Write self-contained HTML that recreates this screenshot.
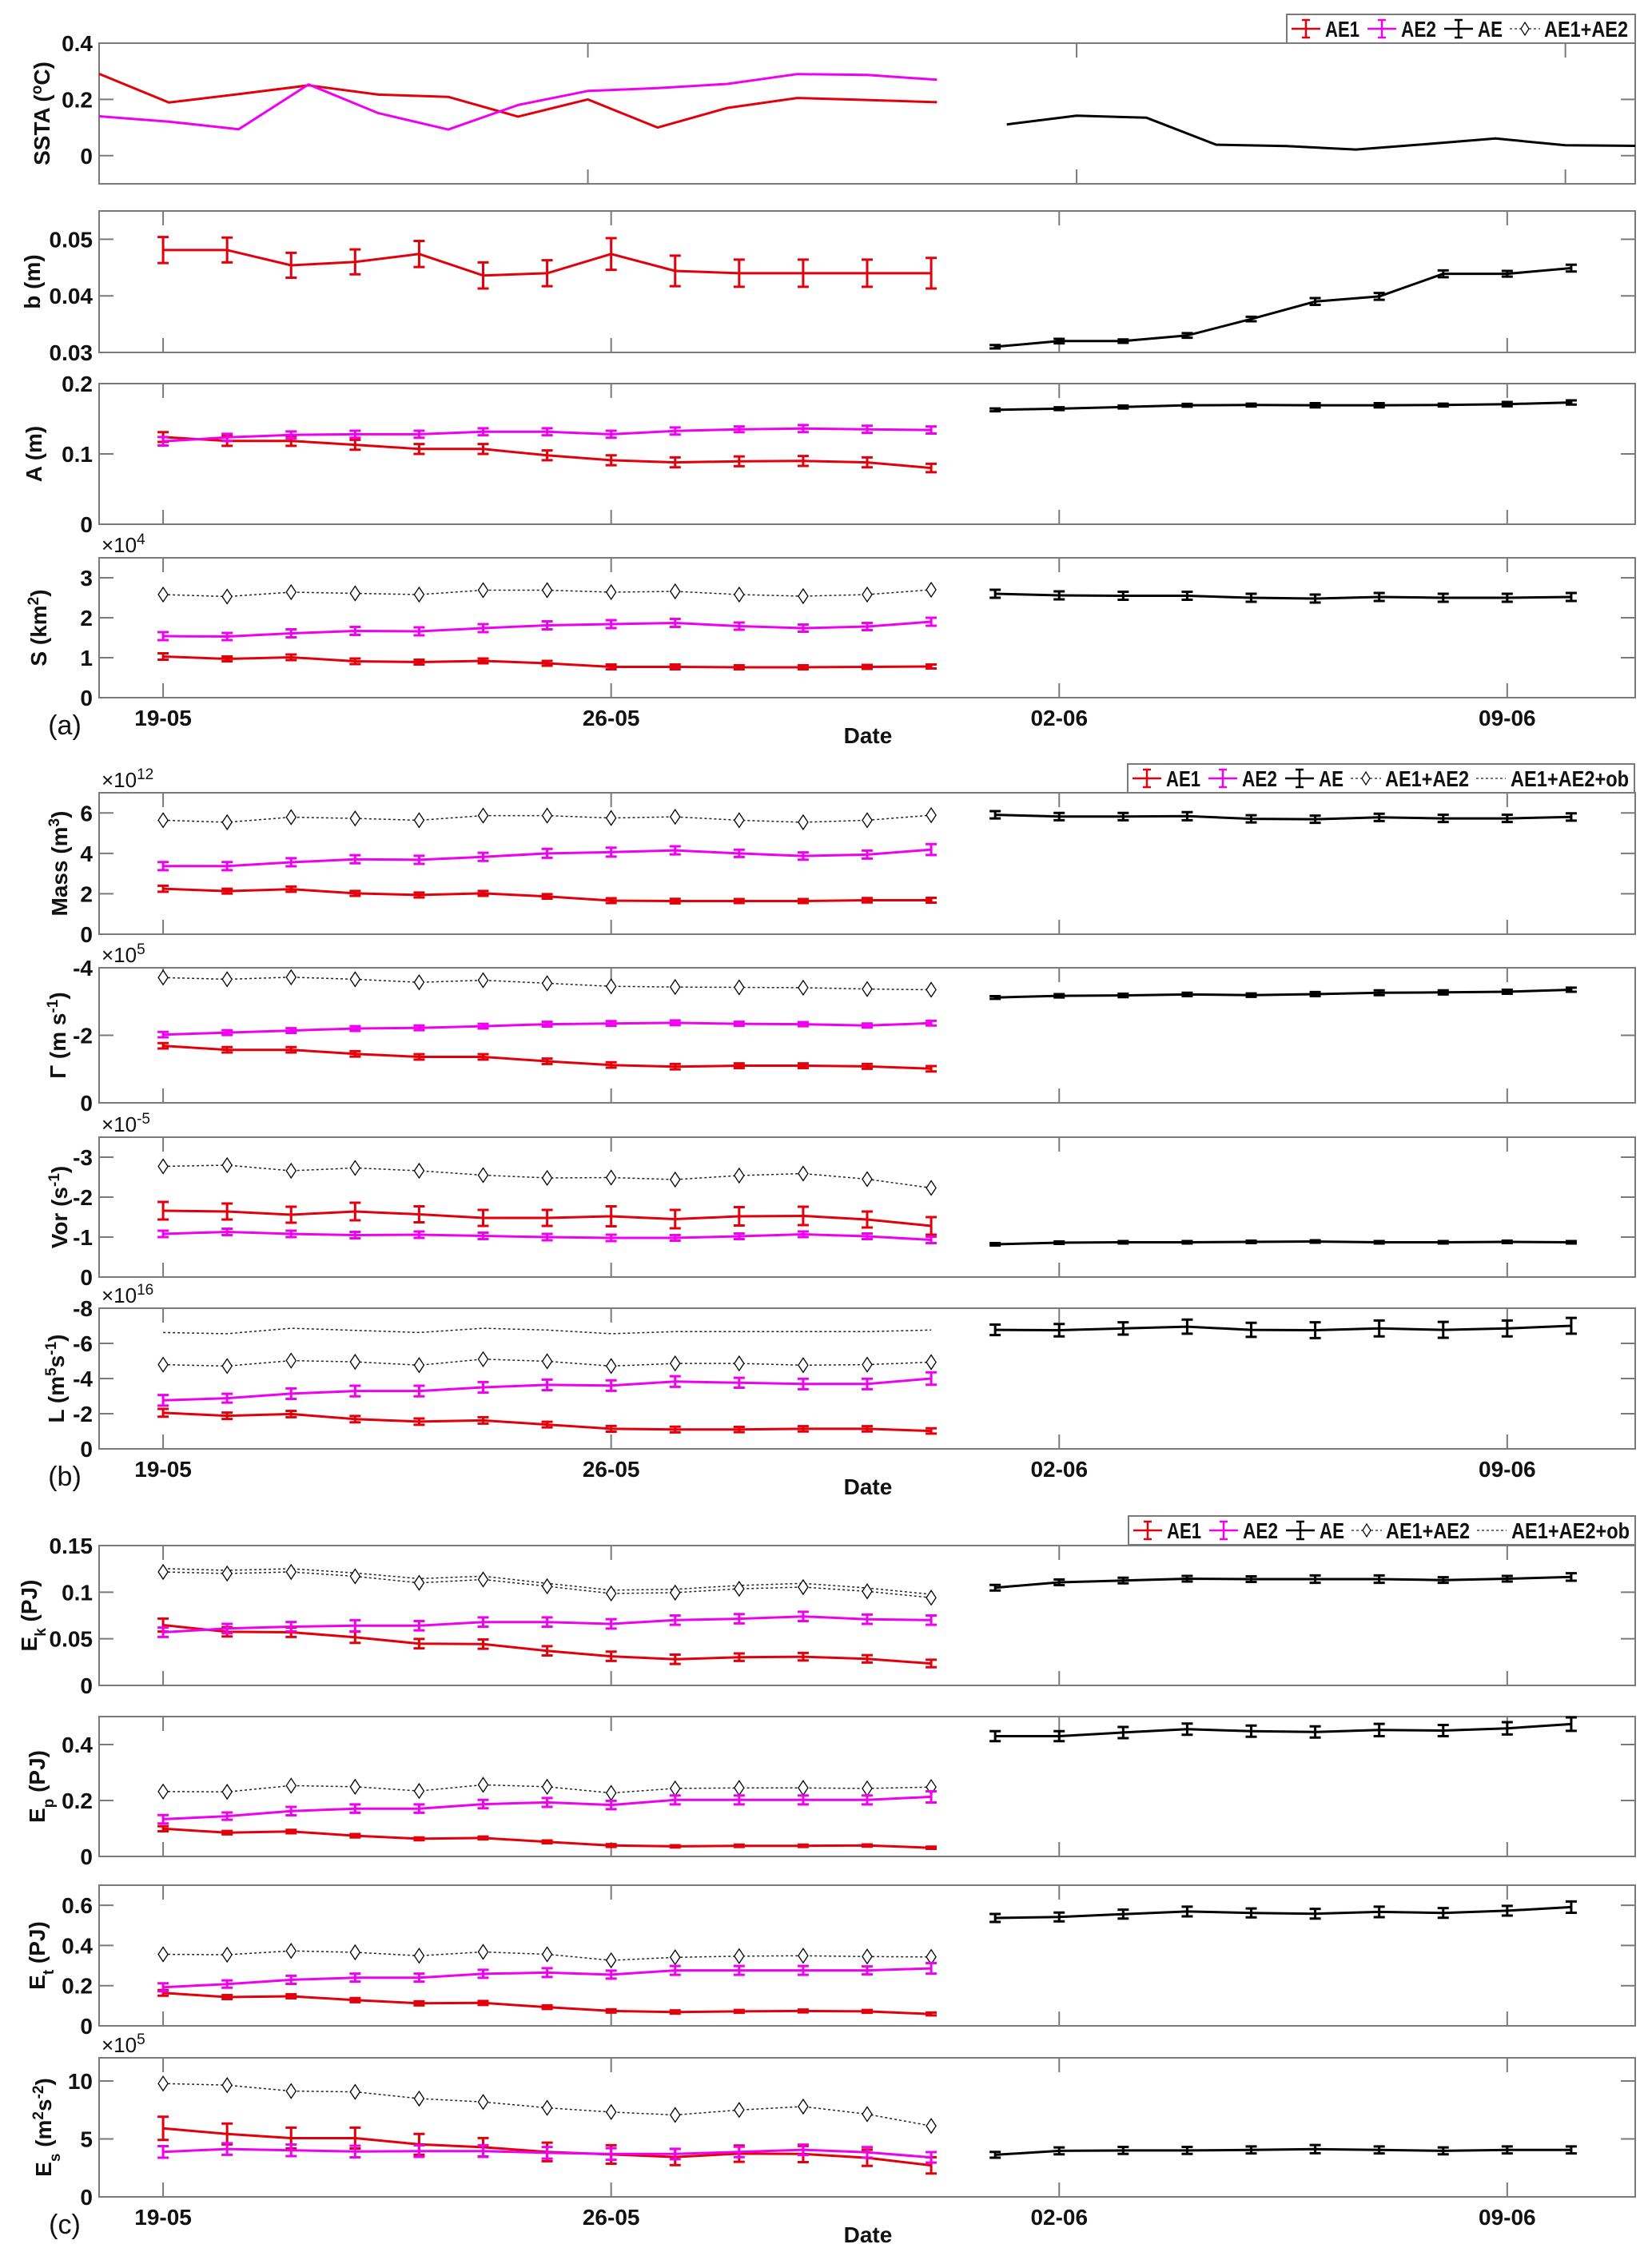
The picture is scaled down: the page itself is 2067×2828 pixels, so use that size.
<!DOCTYPE html>
<html><head><meta charset="utf-8"><title>Eddy time series</title>
<style>
html,body{margin:0;padding:0;background:#fff;}
svg{display:block;}
.tk{font-family:"Liberation Sans Narrow","Liberation Sans",sans-serif;font-weight:bold;font-size:28px;fill:#111;}
.yl{font-family:"Liberation Sans",sans-serif;font-weight:bold;font-size:28px;fill:#111;}
.ex{font-family:"Liberation Sans Narrow","Liberation Sans",sans-serif;font-size:26px;fill:#111;}
.pl{font-family:"Liberation Sans",sans-serif;font-size:34px;fill:#111;}
</style></head>
<body>
<svg id="fig" xmlns="http://www.w3.org/2000/svg" width="2067" height="2828" viewBox="0 0 2067 2828"></svg>
<script>
// ---- x data ----
const daysEddy=[0,1,2,3,4,5,6,7,8,9,10,11,12];
const daysAE=[13,14,15,16,17,18,19,20,21,22];
const sstaIdxEddy=[0,1,2,3,4,5,6,7,8,9,10,11,12];
const sstaIdxAE=[13,14,15,16,17,18,19,20,21,22];
const dateTickDays=[0,7,14,21];
const dateTickLabels=["19-05","26-05","02-06","09-06"];
const sstaTickIdx=[0,7,14,21];
// ---- SSTA ----
const sstaAE1=[0.291,0.189,0.219,0.25,0.217,0.209,0.139,0.2,0.1,0.17,0.205,0.198,0.19];
const sstaAE2=[0.14,0.121,0.094,0.253,0.151,0.093,0.18,0.23,0.24,0.255,0.29,0.287,0.27];
const sstaAE=[0.111,0.142,0.135,0.039,0.034,0.022,0.041,0.061,0.037,0.035];
// ---- b ----
const bAE1=[0.0481,0.0481,0.0454,0.046,0.0474,0.0436,0.044,0.0474,0.0444,0.044,0.044,0.044,0.044];
const bAE1err=[0.0023,0.0022,0.0022,0.0022,0.0023,0.0023,0.0023,0.0028,0.0027,0.0024,0.0024,0.0024,0.0027];
const bAE=[0.031,0.032,0.032,0.033,0.0359,0.039,0.0399,0.0439,0.0439,0.0449];
const bAEerr=[0.0003,0.0004,0.0003,0.0004,0.0004,0.0006,0.0006,0.0006,0.0005,0.0006];
// ---- A ----
const aAE1=[0.124,0.1185,0.1185,0.113,0.107,0.107,0.098,0.091,0.088,0.0895,0.09,0.088,0.08];
const aAE1err=[0.007,0.007,0.007,0.007,0.007,0.007,0.007,0.007,0.007,0.007,0.007,0.007,0.006];
const aAE2=[0.118,0.1235,0.127,0.128,0.128,0.1315,0.1315,0.128,0.1326,0.135,0.136,0.135,0.134];
const aAE2err=[0.006,0.005,0.005,0.005,0.005,0.005,0.005,0.005,0.005,0.004,0.005,0.005,0.005];
const aAE=[0.1626,0.1643,0.1667,0.1692,0.1695,0.1692,0.1692,0.1695,0.1708,0.1732];
const aAEerr=[0.002,0.002,0.002,0.002,0.002,0.003,0.003,0.002,0.003,0.003];
// ---- S (x1e4) ----
const sAE1=[1.03,0.97,1.01,0.91,0.89,0.92,0.86,0.77,0.77,0.76,0.76,0.77,0.78];
const sAE1err=[0.08,0.06,0.07,0.07,0.06,0.06,0.06,0.06,0.06,0.05,0.05,0.05,0.05];
const sAE2=[1.54,1.53,1.61,1.67,1.66,1.74,1.81,1.84,1.87,1.79,1.74,1.78,1.9];
const sAE2err=[0.1,0.09,0.1,0.1,0.1,0.1,0.1,0.1,0.1,0.09,0.09,0.09,0.1];
const sSum=[2.58,2.53,2.64,2.61,2.58,2.69,2.69,2.64,2.66,2.58,2.54,2.58,2.7];
const sAE=[2.6,2.56,2.55,2.55,2.5,2.48,2.52,2.5,2.5,2.52];
const sAEerr=[0.1,0.1,0.1,0.1,0.1,0.1,0.1,0.1,0.1,0.1];
// ---- Mass (x1e12) ----
const mAE1=[2.25,2.13,2.23,2.02,1.94,2.02,1.87,1.66,1.64,1.64,1.64,1.68,1.68];
const mAE1err=[0.15,0.12,0.13,0.12,0.12,0.12,0.11,0.12,0.11,0.1,0.1,0.11,0.12];
const mAE2=[3.37,3.37,3.56,3.71,3.68,3.83,4.0,4.06,4.15,4.0,3.87,3.94,4.19];
const mAE2err=[0.2,0.2,0.2,0.2,0.2,0.2,0.22,0.22,0.2,0.18,0.18,0.2,0.27];
const mSum=[5.64,5.54,5.79,5.73,5.64,5.87,5.87,5.75,5.81,5.64,5.54,5.64,5.89];
const mAE=[5.91,5.82,5.82,5.84,5.71,5.69,5.78,5.73,5.73,5.8];
const mAEerr=[0.18,0.18,0.18,0.2,0.18,0.18,0.18,0.18,0.18,0.18];
// ---- Gamma (x1e5) ----
const gAE1=[-1.69,-1.57,-1.57,-1.45,-1.36,-1.36,-1.23,-1.12,-1.07,-1.1,-1.1,-1.08,-1.01];
const gAE1err=[0.08,0.08,0.08,0.08,0.08,0.08,0.08,0.08,0.08,0.07,0.07,0.07,0.08];
const gAE2=[-2.02,-2.08,-2.14,-2.2,-2.22,-2.27,-2.33,-2.35,-2.37,-2.34,-2.33,-2.29,-2.36];
const gAE2err=[0.08,0.07,0.07,0.07,0.07,0.07,0.07,0.07,0.07,0.06,0.06,0.06,0.07];
const gSum=[-3.71,-3.66,-3.72,-3.66,-3.57,-3.63,-3.54,-3.45,-3.43,-3.42,-3.41,-3.37,-3.35];
const gAE=[-3.12,-3.17,-3.18,-3.21,-3.19,-3.22,-3.26,-3.27,-3.29,-3.35];
const gAEerr=[0.04,0.05,0.05,0.05,0.05,0.06,0.07,0.06,0.06,0.06];
// ---- Vor (x1e-5) ----
const vAE1=[-1.66,-1.64,-1.56,-1.64,-1.57,-1.48,-1.48,-1.52,-1.45,-1.52,-1.53,-1.44,-1.28];
const vAE1err=[0.22,0.2,0.2,0.22,0.2,0.2,0.2,0.25,0.23,0.23,0.23,0.2,0.22];
const vAE2=[-1.08,-1.13,-1.08,-1.05,-1.06,-1.03,-1.0,-0.98,-0.98,-1.02,-1.07,-1.02,-0.93];
const vAE2err=[0.08,0.08,0.08,0.08,0.08,0.08,0.08,0.08,0.07,0.07,0.07,0.07,0.08];
const vSum=[-2.77,-2.8,-2.66,-2.73,-2.66,-2.55,-2.48,-2.49,-2.44,-2.54,-2.59,-2.45,-2.23];
const vAE=[-0.82,-0.86,-0.87,-0.87,-0.88,-0.89,-0.87,-0.87,-0.88,-0.87];
const vAEerr=[0.03,0.03,0.03,0.03,0.03,0.03,0.03,0.03,0.03,0.03];
// ---- L (x1e16) ----
const lAE1=[-2.05,-1.88,-1.98,-1.69,-1.55,-1.62,-1.38,-1.14,-1.1,-1.1,-1.14,-1.14,-1.02];
const lAE1err=[0.22,0.18,0.18,0.18,0.18,0.18,0.16,0.16,0.16,0.15,0.15,0.15,0.15];
const lAE2=[-2.76,-2.88,-3.14,-3.29,-3.29,-3.5,-3.64,-3.6,-3.83,-3.76,-3.69,-3.69,-4.0];
const lAE2err=[0.3,0.25,0.3,0.3,0.3,0.3,0.3,0.3,0.3,0.28,0.3,0.3,0.35];
const lSum=[-4.79,-4.71,-5.02,-4.95,-4.76,-5.1,-4.98,-4.71,-4.86,-4.86,-4.76,-4.79,-4.93];
const lOb=[-6.62,-6.55,-6.86,-6.74,-6.62,-6.86,-6.76,-6.55,-6.67,-6.67,-6.67,-6.67,-6.76];
const lAE=[-6.77,-6.75,-6.85,-6.95,-6.77,-6.75,-6.85,-6.77,-6.85,-7.0];
const lAEerr=[0.3,0.35,0.35,0.4,0.4,0.45,0.45,0.45,0.45,0.45];
// ---- Ek (PJ) ----
const ekAE1=[0.0647,0.0575,0.057,0.0516,0.0448,0.0443,0.0371,0.0312,0.028,0.0303,0.0308,0.0285,0.0235];
const ekAE1err=[0.007,0.005,0.005,0.006,0.005,0.005,0.005,0.005,0.005,0.004,0.004,0.004,0.004];
const ekAE2=[0.057,0.061,0.063,0.064,0.064,0.068,0.068,0.066,0.07,0.0715,0.074,0.071,0.07];
const ekAE2err=[0.005,0.005,0.005,0.006,0.005,0.005,0.005,0.005,0.005,0.005,0.005,0.005,0.005];
const ekSum=[0.1217,0.12,0.1217,0.117,0.11,0.1136,0.1063,0.0986,0.0995,0.1036,0.1054,0.1009,0.0941];
const ekOb=[0.1253,0.1234,0.1251,0.1206,0.1145,0.1172,0.1095,0.1022,0.1031,0.1072,0.1095,0.1045,0.0977];
const ekAE=[0.1048,0.1106,0.1125,0.1144,0.114,0.114,0.114,0.113,0.1144,0.1163];
const ekAEerr=[0.003,0.003,0.003,0.003,0.003,0.004,0.004,0.003,0.003,0.004];
// ---- Ep (PJ) ----
const epAE1=[0.099,0.085,0.089,0.074,0.063,0.066,0.052,0.039,0.036,0.038,0.038,0.039,0.031];
const epAE1err=[0.009,0.006,0.006,0.006,0.005,0.005,0.005,0.005,0.004,0.004,0.004,0.004,0.004];
const epAE2=[0.133,0.144,0.162,0.171,0.171,0.187,0.193,0.184,0.202,0.202,0.202,0.202,0.213];
const epAE2err=[0.015,0.013,0.015,0.015,0.015,0.015,0.016,0.015,0.016,0.016,0.016,0.016,0.02];
const epSum=[0.232,0.231,0.253,0.249,0.234,0.256,0.249,0.227,0.243,0.245,0.245,0.243,0.248];
const epAE=[0.43,0.43,0.443,0.455,0.448,0.445,0.452,0.45,0.458,0.473];
const epAEerr=[0.018,0.018,0.02,0.02,0.02,0.02,0.022,0.02,0.022,0.024];
// ---- Et (PJ) ----
const etAE1=[0.164,0.143,0.147,0.128,0.112,0.114,0.093,0.074,0.069,0.072,0.074,0.072,0.059];
const etAE1err=[0.014,0.01,0.01,0.01,0.01,0.01,0.009,0.008,0.008,0.007,0.007,0.007,0.007];
const etAE2=[0.192,0.208,0.229,0.24,0.24,0.259,0.265,0.255,0.276,0.276,0.276,0.276,0.286];
const etAE2err=[0.02,0.018,0.02,0.02,0.02,0.02,0.022,0.02,0.022,0.022,0.022,0.02,0.026];
const etSum=[0.356,0.354,0.373,0.366,0.349,0.368,0.356,0.326,0.341,0.347,0.349,0.345,0.343];
const etAE=[0.537,0.542,0.556,0.569,0.562,0.558,0.567,0.562,0.573,0.591];
const etAEerr=[0.02,0.022,0.022,0.024,0.022,0.024,0.026,0.024,0.024,0.028];
// ---- Es (x1e5) ----
const esAE1=[5.91,5.43,5.07,5.07,4.53,4.28,3.88,3.66,3.44,3.73,3.7,3.37,2.72];
const esAE1err=[1.0,0.9,0.9,0.9,0.9,0.8,0.8,0.8,0.7,0.7,0.7,0.7,0.7];
const esAE2=[3.88,4.13,4.02,3.91,3.95,3.95,3.8,3.7,3.7,3.88,4.06,3.84,3.41];
const esAE2err=[0.5,0.5,0.5,0.5,0.5,0.5,0.5,0.5,0.45,0.45,0.45,0.45,0.45];
const esSum=[9.78,9.64,9.13,9.06,8.48,8.19,7.68,7.32,7.07,7.5,7.79,7.14,6.12];
const esAE=[3.63,3.97,4.01,4.01,4.05,4.12,4.05,3.97,4.05,4.05];
const esAEerr=[0.25,0.3,0.3,0.3,0.3,0.35,0.3,0.3,0.3,0.3];
// ---- axis ticks ----
const tSSTA=[0,0.2,0.4], tB=[0.03,0.04,0.05], tA=[0,0.1,0.2], tS=[0,1,2,3];
const tMass=[0,2,4,6], tG=[0,-2,-4], tVor=[0,-1,-2,-3], tL=[0,-2,-4,-6,-8];
const tEk=[0,0.05,0.1,0.15], tEp=[0,0.2,0.4], tEt=[0,0.2,0.4,0.6], tEs=[0,5,10];

const NS="http://www.w3.org/2000/svg";
const svg=document.getElementById('fig');
const X0=124,X1=2046;
const RED="#e3000b", MAG="#f000f0", BLK="#000", AXC="#7a7a7a";
function xDay(d){return X0+(d+1)*(X1-X0)/24;}
function xIdx(i){return X0+i*(X1-X0)/22;}
function mk(tag,attrs,parent){const e=document.createElementNS(NS,tag);for(const k in attrs)e.setAttribute(k,attrs[k]);(parent||svg).appendChild(e);return e;}
function fmt(v){return String(v);}

function drawLine(g,xs,ys,color,width,dash,name){
  const pts=xs.map((x,i)=>x.toFixed(1)+","+ys[i].toFixed(1)).join(" ");
  const p=mk('polyline',{points:pts,fill:'none',stroke:color,'stroke-width':width,'stroke-linejoin':'round'},g);
  if(dash)p.setAttribute('stroke-dasharray',dash);
  
  
}
function drawErr(g,xs,vals,errs,color,ys,name){
  for(let i=0;i<xs.length;i++){
    const x=xs[i],y1=ys(vals[i]-errs[i]),y2=ys(vals[i]+errs[i]);
    const eb=mk('path',{d:`M${x},${y1}V${y2}M${x-7},${y1}H${x+7}M${x-7},${y2}H${x+7}`,stroke:color,'stroke-width':3,fill:'none'},g);
    
    
  }
}
function drawDiamonds(g,xs,ys,name){
  for(let i=0;i<xs.length;i++){
    const x=xs[i],y=ys[i];
    const d=mk('polygon',{points:`${x},${y-9} ${x+6},${y} ${x},${y+9} ${x-6},${y}`,fill:'#fff',stroke:'#000','stroke-width':1.3},g);
    
    
  }
}

const panels=[
 {id:'ssta',top:54,bot:230,ymin:-0.1,ymax:0.4,ticks:tSSTA,lx:52,label:[['SSTA (',''],['o','sup'],['C)','']],ssta:true,
  lines:[[sstaIdxEddy,sstaAE1,RED],[sstaIdxEddy,sstaAE2,MAG],[sstaIdxAE,sstaAE,BLK]]},
 {id:'b',top:264,bot:441,ymin:0.03,ymax:0.055,ticks:tB,lx:40,label:[['b (m)','']],
  eb:[[daysEddy,bAE1,bAE1err,RED],[daysAE,bAE,bAEerr,BLK]]},
 {id:'a',top:480,bot:656,ymin:0,ymax:0.2,ticks:tA,lx:42,label:[['A (m)','']],
  eb:[[daysEddy,aAE1,aAE1err,RED],[daysEddy,aAE2,aAE2err,MAG],[daysAE,aAE,aAEerr,BLK]]},
 {id:'s',top:698,bot:873,ymin:0,ymax:3.5,ticks:tS,lx:48,label:[['S (km',''],['2','sup'],[')','']],exp:'4',
  sum:sSum,eb:[[daysEddy,sAE1,sAE1err,RED],[daysEddy,sAE2,sAE2err,MAG],[daysAE,sAE,sAEerr,BLK]],dates:true,tag:'(a)'},
 {id:'mass',top:992,bot:1169,ymin:0,ymax:7,ticks:tMass,lx:74,label:[['Mass (m',''],['3','sup'],[')','']],exp:'12',
  sum:mSum,eb:[[daysEddy,mAE1,mAE1err,RED],[daysEddy,mAE2,mAE2err,MAG],[daysAE,mAE,mAEerr,BLK]]},
 {id:'gamma',top:1211,bot:1380,ymin:0,ymax:-4,ticks:tG,lx:72,label:[['\u0393 (m s',''],['-1','sup'],[')','']],exp:'5',
  sum:gSum,eb:[[daysEddy,gAE1,gAE1err,RED],[daysEddy,gAE2,gAE2err,MAG],[daysAE,gAE,gAEerr,BLK]]},
 {id:'vor',top:1423,bot:1598,ymin:0,ymax:-3.5,ticks:tVor,lx:74,label:[['Vor (s',''],['-1','sup'],[')','']],exp:'-5',
  sum:vSum,eb:[[daysEddy,vAE1,vAE1err,RED],[daysEddy,vAE2,vAE2err,MAG],[daysAE,vAE,vAEerr,BLK]]},
 {id:'l',top:1637,bot:1813,ymin:0,ymax:-8,ticks:tL,lx:70,label:[['L (m',''],['5','sup'],['s',''],['-1','sup'],[')','']],exp:'16',
  sum:lSum,ob:lOb,eb:[[daysEddy,lAE1,lAE1err,RED],[daysEddy,lAE2,lAE2err,MAG],[daysAE,lAE,lAEerr,BLK]],dates:true,tag:'(b)'},
 {id:'ek',top:1934,bot:2109,ymin:0,ymax:0.15,ticks:tEk,lx:36,label:[['E',''],['k','sub'],[' (PJ)','']],
  sum:ekSum,ob:ekOb,eb:[[daysEddy,ekAE1,ekAE1err,RED],[daysEddy,ekAE2,ekAE2err,MAG],[daysAE,ekAE,ekAEerr,BLK]]},
 {id:'ep',top:2148,bot:2323,ymin:0,ymax:0.5,ticks:tEp,lx:46,label:[['E',''],['p','sub'],[' (PJ)','']],
  sum:epSum,eb:[[daysEddy,epAE1,epAE1err,RED],[daysEddy,epAE2,epAE2err,MAG],[daysAE,epAE,epAEerr,BLK]]},
 {id:'et',top:2359,bot:2535,ymin:0,ymax:0.7,ticks:tEt,lx:46,label:[['E',''],['t','sub'],[' (PJ)','']],
  sum:etSum,eb:[[daysEddy,etAE1,etAE1err,RED],[daysEddy,etAE2,etAE2err,MAG],[daysAE,etAE,etAEerr,BLK]]},
 {id:'es',top:2575,bot:2749,ymin:0,ymax:12,ticks:tEs,lx:54,label:[['E',''],['s','sub'],[' (m',''],['2','sup'],['s',''],['-2','sup'],[')','']],exp:'5',
  sum:esSum,eb:[[daysEddy,esAE1,esAE1err,RED],[daysEddy,esAE2,esAE2err,MAG],[daysAE,esAE,esAEerr,BLK]],dates:true,tag:'(c)'}
];

panels.forEach(p=>{
  const g=mk('g',{});
  
  
  const ys=v=>p.bot-(v-p.ymin)/(p.ymax-p.ymin)*(p.bot-p.top);
  const xf=p.ssta?xIdx:xDay;
  const xt=p.ssta?sstaTickIdx:dateTickDays;
  xt.forEach(t=>{
    const x=xf(t);
    const a=mk('path',{d:`M${x},${p.bot}v-18M${x},${p.top}v18`,stroke:AXC,'stroke-width':2},g);
    
    
  });
  p.ticks.forEach(t=>{
    const y=ys(t);
    const a=mk('path',{d:`M${X0},${y}h18M${X1},${y}h-18`,stroke:AXC,'stroke-width':2},g);
    
    
    const tx=mk('text',{x:116,y:y+10,'text-anchor':'end',class:'tk'},g);
    tx.textContent=fmt(t);
    
    
  });
  const box=mk('rect',{x:X0,y:p.top,width:X1-X0,height:p.bot-p.top,fill:'none',stroke:AXC,'stroke-width':2},g);
  
  
  const cy=(p.top+p.bot)/2;
  const yl=mk('text',{x:p.lx,y:cy,'text-anchor':'middle',class:'yl',transform:`rotate(-90 ${p.lx} ${cy})`,dy:10},g);
  p.label.forEach(([s,k])=>{
    const ts=mk('tspan',{},yl);
    ts.textContent=s;
    if(k==='sup'){ts.setAttribute('baseline-shift','super');ts.setAttribute('font-size','19');}
    if(k==='sub'){ts.setAttribute('baseline-shift','sub');ts.setAttribute('font-size','19');}
  });
  
  
  if(p.exp){
    const ex=mk('text',{x:127,y:p.top-7,class:'ex'},g);
    ex.textContent='\u00d710';
    const es=mk('tspan',{'baseline-shift':'super','font-size':'19'},ex);
    es.textContent=p.exp;
    
    
  }
  if(p.lines){
    p.lines.forEach(([xsA,vals,c])=>drawLine(g,xsA.map(xf),vals.map(ys),c,3,null,p.id+'-series-line'));
  }
  if(p.ob){drawLine(g,daysEddy.map(xDay),p.ob.map(ys),'#222',1.5,'3 3',p.id+'-sum-ob-line');}
  if(p.sum){
    drawLine(g,daysEddy.map(xDay),p.sum.map(ys),'#222',1.5,'3 3',p.id+'-sum-line');
    drawDiamonds(g,daysEddy.map(xDay),p.sum.map(ys),p.id+'-sum');
  }
  if(p.eb){
    p.eb.forEach(([xsA,vals,errs,c])=>{
      drawLine(g,xsA.map(xDay),vals.map(ys),c,3,null,p.id+'-series-line');
      drawErr(g,xsA.map(xDay),vals,errs,c,ys,p.id);
    });
  }
  if(p.dates){
    dateTickDays.forEach((d,i)=>{
      const t=mk('text',{x:xDay(d),y:p.bot+35,'text-anchor':'middle',class:'tk'},g);
      t.textContent=dateTickLabels[i];
      
      
    });
    const dl=mk('text',{x:1086,y:p.bot+57,'text-anchor':'middle',class:'yl'},g);
    dl.textContent='Date';
    
    
    const pl=mk('text',{x:81,y:p.bot+46,'text-anchor':'middle',class:'pl'},g);
    pl.textContent=p.tag;
    
    
  }
});

function legend(left,top,withOb,name){
  const g=mk('g',{});
  
  
  const w=withOb?634:436, h=36, cy=top+h/2;
  const r=mk('rect',{x:left,y:top,width:w,height:h,fill:'#fff',stroke:AXC,'stroke-width':2},g);
  
  
  const ents=[['AE1',RED,24,48,43],['AE2',MAG,119,143,44],['AE',BLK,215,239,31]];
  ents.forEach(([lab,c,ix,tx,tw])=>{
    const x=left+ix;
    const ic=mk('path',{d:`M${x-18},${cy}H${x+18}M${x},${cy-11}V${cy+11}M${x-5},${cy-11}H${x+5}M${x-5},${cy+11}H${x+5}`,stroke:c,'stroke-width':2.5,fill:'none'},g);
    
    
    const t=mk('text',{x:left+tx,y:cy+10,class:'tk',textLength:tw,lengthAdjust:'spacingAndGlyphs'},g);
    t.textContent=lab;
    
    
  });
  const dx=left+298;
  const dl=mk('path',{d:`M${dx-19},${cy}H${dx+19}`,stroke:'#222','stroke-width':1.3,'stroke-dasharray':'3 3'},g);
  
  
  const dm=mk('polygon',{points:`${dx},${cy-8} ${dx+5},${cy} ${dx},${cy+8} ${dx-5},${cy}`,fill:'#fff',stroke:'#000','stroke-width':1.2},g);
  
  
  const st=mk('text',{x:left+322,y:cy+10,class:'tk',textLength:105,lengthAdjust:'spacingAndGlyphs'},g);
  st.textContent='AE1+AE2';
  
  
  if(withOb){
    const ol=mk('path',{d:`M${left+436},${cy}H${left+473}`,stroke:'#222','stroke-width':1.3,'stroke-dasharray':'3 3'},g);
    
    
    const ot=mk('text',{x:left+479,y:cy+10,class:'tk',textLength:148,lengthAdjust:'spacingAndGlyphs'},g);
    ot.textContent='AE1+AE2+ob';
    
    
  }
}
legend(1610,18,false,'legend-a');
legend(1411,956,true,'legend-b');
legend(1412,1897,true,'legend-c');
</script>
</body></html>
